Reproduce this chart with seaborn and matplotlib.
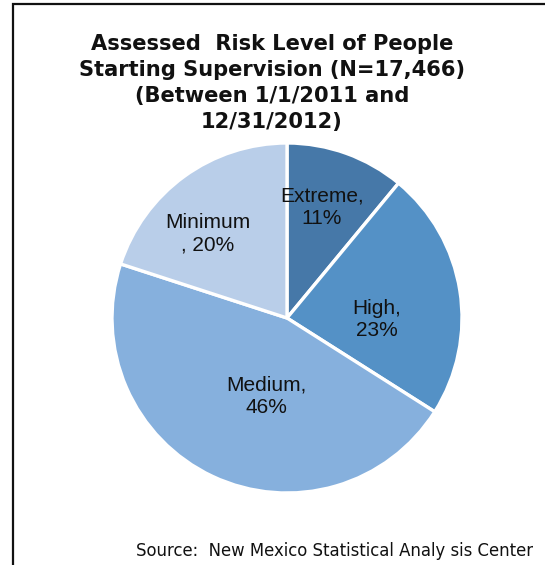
import matplotlib
matplotlib.use("Agg")
import matplotlib.pyplot as plt
import seaborn as sns
from matplotlib.patches import Rectangle

categories = ["Extreme", "High", "Medium", "Minimum"]
percents = [11, 23, 46, 20]
colors = ["#4678A8", "#5491C6", "#86B0DD", "#B9CEE9"]
title = "Assessed  Risk Level of People\nStarting Supervision (N=17,466)\n(Between 1/1/2011 and\n12/31/2012)"
source = "Source:  New Mexico Statistical Analy sis Center"
# label placement inside the pie (data units, radius = 1)
label_pos = {"Extreme": (0.20, 0.634), "High": (0.514, -0.006),
             "Medium": (-0.12, -0.446), "Minimum": (-0.451, 0.48)}
label_text = {"Extreme": "Extreme,\n{}%", "High": "High,\n{}%",
              "Medium": "Medium,\n{}%", "Minimum": "Minimum\n, {}%"}

sns.set_theme(style="white")
plt.rcParams["font.family"] = ["Liberation Sans", "DejaVu Sans"]

W, H = 545, 565
fig = plt.figure(figsize=(W / 100, H / 100), dpi=100)
fig.patch.set_facecolor("white")

# frame
fig.add_artist(Rectangle((13 / W, -0.05), 1.2, 1 - 4 / H + 0.05,
                         transform=fig.transFigure, fill=False,
                         edgecolor="#111111", linewidth=1.6))

cx, cy, r = 287, 318, 175
ax = fig.add_axes([(cx - r) / W, (H - cy - r) / H, 2 * r / W, 2 * r / H])
pal = sns.color_palette(colors)
wedges, _ = ax.pie(percents, colors=pal, startangle=90, counterclock=False,
                   radius=1, wedgeprops=dict(edgecolor="white", linewidth=2.4))
ax.set_xlim(-1.0, 1.0)
ax.set_ylim(-1.0, 1.0)
ax.set_aspect("equal")
ax.axis("off")

for cat, p in zip(categories, percents):
    x, y = label_pos[cat]
    ax.text(x, y, label_text[cat].format(p), ha="center", va="center",
            multialignment="center", fontsize=15, color="#111111",
            linespacing=1.2)

fig.text(272 / W, 1 - 128 / H, title, ha="center", va="baseline",
         multialignment="center", fontsize=15.1, fontweight="bold",
         linespacing=1.38, color="#111111", family=["DejaVu Sans"])
fig.text(533 / W, 1 - 556 / H, source, ha="right", va="baseline",
         fontsize=11.9, color="#111111", family=["DejaVu Sans"])

fig.savefig("out.png", dpi=100)
